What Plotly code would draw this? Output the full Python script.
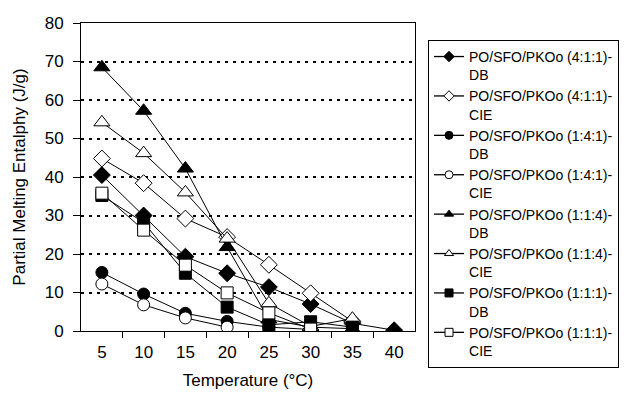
import plotly.graph_objects as go

temps = [5, 10, 15, 20, 25, 30, 35, 40]

po411_db = [40.5, 30, 19.3, 15, 11.4, 7, 2, 0.2]
po411_cie = [44.8, 38.4, 29.2, 24.4, 17.2, 9.8, 2.5]
po141_db = [15.2, 9.6, 4.6, 2.5, 1.0, 0.4]
po141_cie = [12.2, 6.8, 3.4, 1.0]
po114_db = [68.5, 57.2, 42.2, 21.8, 3.0, 1.0, 0.6]
po114_cie = [54.2, 46.2, 36.0, 24.0, 7.2, 1.2, 3.2]
po111_db = [35.2, 28.2, 15.0, 6.2, 1.6, 2.4, 1.0]
po111_cie = [35.8, 26.2, 17.1, 9.9, 4.7, 0.5]

series = [
    ("PO/SFO/PKOo (4:1:1)-<br>DB", po411_db, "diamond", 13),
    ("PO/SFO/PKOo (4:1:1)-<br>CIE", po411_cie, "diamond-open", 13),
    ("PO/SFO/PKOo (1:4:1)-<br>DB", po141_db, "circle", 12),
    ("PO/SFO/PKOo (1:4:1)-<br>CIE", po141_cie, "circle-open", 12),
    ("PO/SFO/PKOo (1:1:4)-<br>DB", po114_db, "triangle-up", 14),
    ("PO/SFO/PKOo (1:1:4)-<br>CIE", po114_cie, "triangle-up-open", 14),
    ("PO/SFO/PKOo (1:1:1)-<br>DB", po111_db, "square", 12),
    ("PO/SFO/PKOo (1:1:1)-<br>CIE", po111_cie, "square-open", 12),
]

fig = go.Figure()
for i, (name, vals, sym, size) in enumerate(series):
    is_open = sym.endswith("-open")
    base = sym.replace("-open", "")
    fill = "white" if is_open else "black"
    # data curve
    fig.add_trace(go.Scatter(
        x=temps[:len(vals)], y=vals, name=name, mode="lines+markers",
        legendgroup=f"g{i}", showlegend=False,
        line=dict(color="black", width=1),
        marker=dict(symbol=base, size=size, color=fill,
                    line=dict(color="black", width=1)),
    ))
    # legend key with a smaller symbol
    fig.add_trace(go.Scatter(
        x=[None], y=[None], name=name, mode="lines+markers",
        legendgroup=f"g{i}", showlegend=True, hoverinfo="skip",
        line=dict(color="black", width=1.3),
        marker=dict(symbol=base, size=8, color=fill,
                    line=dict(color="black", width=1)),
    ))

font = "Liberation Sans, Arial, sans-serif"
fig.update_layout(
    width=641, height=405,
    margin=dict(l=81, r=226, t=23, b=74),
    paper_bgcolor="white", plot_bgcolor="white",
    font=dict(family=font, color="black", size=16),
    showlegend=True,
    legend=dict(
        x=1.039, y=0.945, xanchor="left", yanchor="top",
        bordercolor="black", borderwidth=1,
        font=dict(size=14, family=font),
        tracegroupgap=0, valign="top",
        itemwidth=30, maxheight=400,
    ),
    xaxis=dict(
        range=[2.5, 42.5], tickvals=temps, ticks="", showgrid=False,
        showline=True, linecolor="black", linewidth=1, mirror=True,
        zeroline=False, ticklabelstandoff=6,
        minor=dict(tickmode="array", tickvals=[7.5, 12.5, 17.5, 22.5, 27.5, 32.5, 37.5],
                   ticks="outside", ticklen=6, tickcolor="black", showgrid=False),
        title=dict(text="Temperature (°C)", font=dict(size=17), standoff=12),
        tickfont=dict(size=17),
    ),
    yaxis=dict(
        range=[0, 80], tickvals=[0, 10, 20, 30, 40, 50, 60, 70, 80],
        ticks="outside", ticklen=7, tickcolor="black",
        showline=True, linecolor="black", linewidth=1, mirror=True,
        showgrid=True, gridcolor="black", gridwidth=1.5, griddash="3px,5px",
        zeroline=False, ticklabelstandoff=6,
        title=dict(text="Partial Melting Entalphy (J/g)", font=dict(size=17), standoff=14),
        tickfont=dict(size=17),
    ),
)

fig.write_html("out.html")
